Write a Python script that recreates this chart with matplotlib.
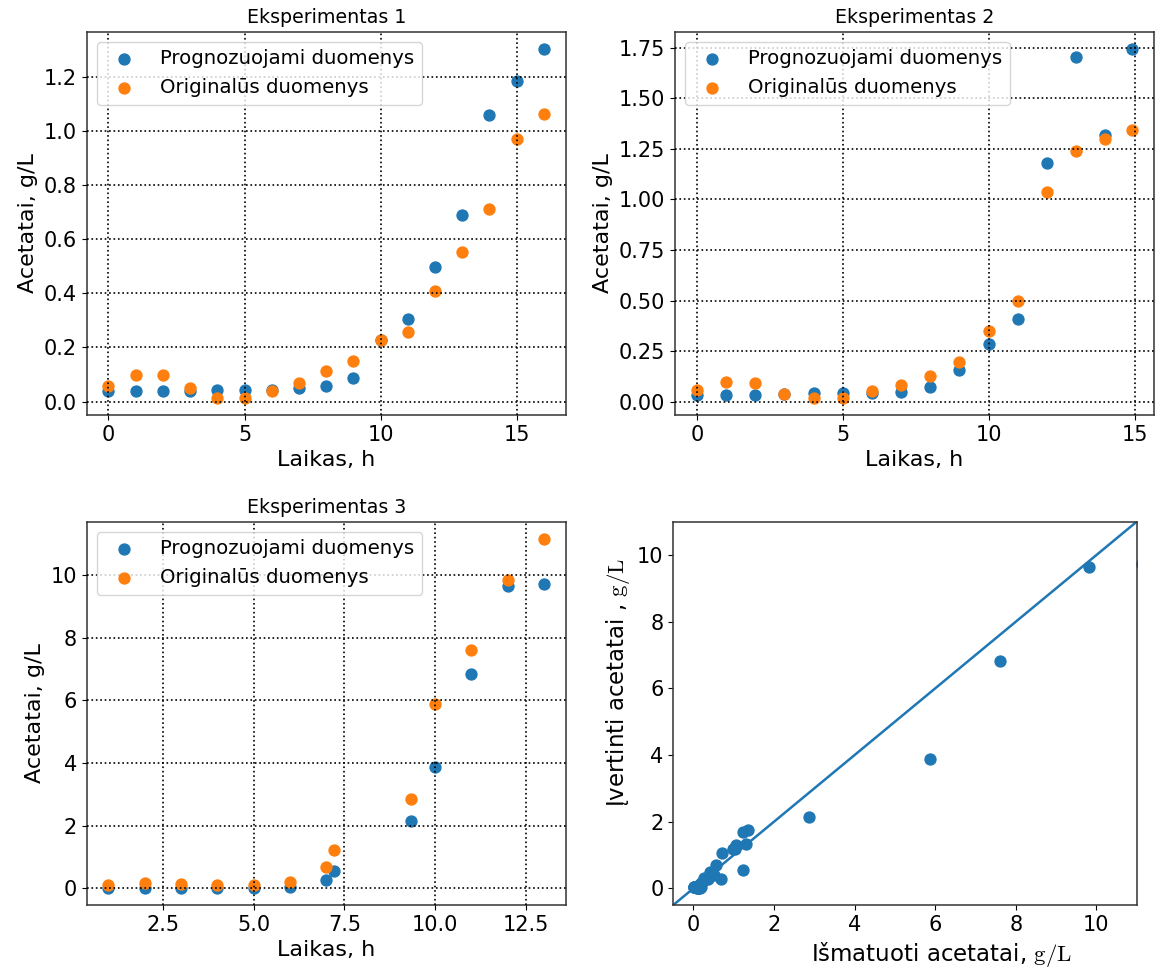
import matplotlib
matplotlib.use("Agg")
import matplotlib.pyplot as plt
import numpy as np

plt.rcParams['mathtext.fontset'] = 'cm'

# Experiment 1
t1 = [0, 1, 2, 3, 4, 5, 6, 7, 8, 9, 10, 11, 12, 13, 14, 15, 16]
pred1 = [0.039, 0.039, 0.039, 0.039, 0.042, 0.042, 0.044, 0.050, 0.058, 0.089,
         0.229, 0.304, 0.497, 0.689, 1.058, 1.184, 1.302]
orig1 = [0.058, 0.099, 0.097, 0.050, 0.015, 0.015, 0.041, 0.070, 0.115, 0.150,
         0.229, 0.257, 0.409, 0.554, 0.712, 0.970, 1.064]

# Experiment 2
t2 = [0, 1, 2, 3, 4, 5, 6, 7, 8, 9, 10, 11, 12, 13, 14, 14.92]
pred2 = [0.036, 0.036, 0.036, 0.040, 0.043, 0.043, 0.045, 0.051, 0.071, 0.157,
         0.284, 0.409, 1.181, 1.705, 1.321, 1.743]
orig2 = [0.056, 0.097, 0.091, 0.040, 0.021, 0.021, 0.053, 0.081, 0.130, 0.198,
         0.350, 0.500, 1.039, 1.240, 1.299, 1.342]

# Experiment 3
t3 = [1, 2, 3, 4, 5, 6, 7, 7.22, 9.33, 10, 11, 12, 13]
pred3 = [0.02, 0.02, 0.02, 0.02, 0.02, 0.03, 0.27, 0.56, 2.15, 3.88, 6.83, 9.63, 9.72]
orig3 = [0.11, 0.16, 0.14, 0.10, 0.10, 0.19, 0.69, 1.23, 2.86, 5.87, 7.61, 9.82, 11.14]

titles = ["Eksperimentas 1", "Eksperimentas 2", "Eksperimentas 3"]
label_pred = "Prognozuojami duomenys"
label_orig = "Originalūs duomenys"
xlabel = "Laikas, h"
ylabel = "Acetatai, g/L"
xlabel4 = r"Išmatuoti acetatai, $\mathrm{g/L}$"
ylabel4 = r"Įvertinti acetatai , $\mathrm{g/L}$"
xticks = [[0, 5, 10, 15], [0, 5, 10, 15], [2.5, 5.0, 7.5, 10.0, 12.5]]

W, H = 1160, 972
fig = plt.figure(figsize=(W / 100, H / 100), dpi=100)

def ax_px(left, top, right, bottom):
    return fig.add_axes([left / W, 1 - bottom / H, (right - left) / W, (bottom - top) / H])

axes = [
    ax_px(86.7, 31.7, 565.7, 415),
    ax_px(675, 31.7, 1154, 415),
    ax_px(86.7, 521.7, 565.7, 905),
]
ax4 = ax_px(673.3, 521.7, 1136.7, 905)

blue = '#1f77b4'
orange = '#ff7f0e'
ms = 62
data = [(t1, pred1, orig1), (t2, pred2, orig2), (t3, pred3, orig3)]
for ax, (t, p, o), title, xt in zip(axes, data, titles, xticks):
    ax.scatter(t, p, s=ms, color=blue, label=label_pred, zorder=2)
    ax.scatter(t, o, s=ms, color=orange, label=label_orig, zorder=2)
    ax.grid(True, color='k', linestyle=':', linewidth=1.2)
    ax.set_axisbelow(False)
    ax.set_xticks(xt)
    ax.set_title(title, fontsize=13.7)
    ax.set_xlabel(xlabel, fontsize=16)
    ax.set_ylabel(ylabel, fontsize=16)
    ax.tick_params(labelsize=15)
    ax.legend(loc='upper left', fontsize=14.2)

axes[1].set_yticks([0, 0.25, 0.5, 0.75, 1.0, 1.25, 1.5, 1.75])

meas = list(orig1) + list(orig2) + list(orig3)
est = list(pred1) + list(pred2) + list(pred3)
ax4.scatter(meas, est, s=ms, color=blue)
lims = [-0.5, 11]
ax4.plot(lims, lims, color=blue, linewidth=1.8)
ax4.set_xlim(lims)
ax4.set_ylim(lims)
ax4.set_xticks([0, 2, 4, 6, 8, 10])
ax4.set_yticks([0, 2, 4, 6, 8, 10])
ax4.set_xlabel(xlabel4, fontsize=16.5, x=0.578)
ax4.set_ylabel(ylabel4, fontsize=16.5, y=0.582)
ax4.tick_params(labelsize=15)

for ax in axes + [ax4]:
    for s in ax.spines.values():
        s.set_linewidth(1.1)
        s.set_color('#333333')

fig.savefig("out.png", dpi=100)
